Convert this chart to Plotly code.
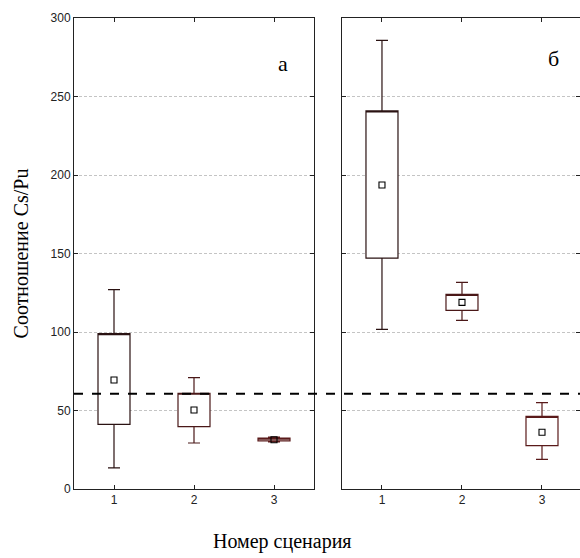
import plotly.graph_objects as go

# ---- data ----
scenarios = [1, 2, 3]
# panel "а"
a_lower = [13.4, 29.3, 30.0]
a_q1 = [41.2, 39.7, 30.6]
a_q3 = [99.0, 61.0, 32.4]
a_upper = [127.0, 71.0, 33.0]
a_mean = [69.4, 50.3, 31.4]
# panel "б"
b_lower = [101.7, 107.4, 18.9]
b_q1 = [147.0, 113.8, 27.6]
b_q3 = [240.8, 124.0, 46.3]
b_upper = [285.8, 131.6, 55.0]
b_mean = [193.6, 118.9, 36.1]
threshold = 60.7
y_ticks = [0, 50, 100, 150, 200, 250, 300]
panel_labels = ["а", "б"]

box_colors = ["#2a1212", "#4a1818", "#5a1a1a"]

fig = go.Figure()

def add_panel(xa, ya, lower, q1, q3, upper, mean):
    for i, s in enumerate(scenarios):
        fig.add_trace(go.Box(
            x=[s], q1=[q1[i]], median=[q3[i]], q3=[q3[i]],
            lowerfence=[lower[i]], upperfence=[upper[i]],
            width=0.4, whiskerwidth=0.375,
            fillcolor="white", line=dict(color=box_colors[i], width=1.2),
            xaxis=xa, yaxis=ya, showlegend=False, hoverinfo="skip",
        ))
    fig.add_trace(go.Scatter(
        x=scenarios, y=mean, mode="markers",
        marker=dict(symbol="square-open", size=6, color="black", line=dict(width=1.1)),
        xaxis=xa, yaxis=ya, showlegend=False, hoverinfo="skip",
    ))

add_panel("x", "y", a_lower, a_q1, a_q3, a_upper, a_mean)
add_panel("x2", "y2", b_lower, b_q1, b_q3, b_upper, b_mean)

axis_common = dict(
    showline=True, linecolor="#222", linewidth=1, mirror="ticks",
    ticks="inside", ticklen=4, tickcolor="#222",
    tickfont=dict(family="Liberation Sans, Arial", size=12, color="#222"),
    zeroline=False,
)
grid_common = dict(showgrid=True, gridcolor="#c4c4c4", griddash="3px,2px", gridwidth=1)

fig.update_layout(
    width=580, height=558,
    margin=dict(l=74, r=0, t=18, b=69),
    paper_bgcolor="white", plot_bgcolor="white",
    boxmode="overlay",
    xaxis=dict(domain=[0, 0.4743], range=[0.5, 3.5], tickvals=scenarios,
               showgrid=False, **axis_common),
    xaxis2=dict(domain=[0.5296, 1], range=[0.5, 3.475], tickvals=scenarios,
                showgrid=False, anchor="y2", **axis_common),
    yaxis=dict(range=[0, 300], tickvals=y_ticks,
               title=dict(text="Соотношение Cs/Pu",
                          font=dict(family="Liberation Serif, Times New Roman", size=20, color="black"),
                          standoff=16),
               **grid_common, **axis_common),
    yaxis2=dict(range=[0, 300], tickvals=y_ticks, showticklabels=False, anchor="x2",
                **grid_common, **axis_common),
)

fig.add_shape(type="line", xref="paper", yref="y", x0=0, x1=1, y0=threshold, y1=threshold,
              line=dict(color="black", width=2, dash="dash"))

fig.add_annotation(text=panel_labels[0], xref="x domain", yref="y domain", x=0.9, y=0.934,
                   showarrow=False, font=dict(family="Liberation Serif, Times New Roman", size=22, color="black"))
fig.add_annotation(text=panel_labels[1], xref="x2 domain", yref="y2 domain", x=0.92, y=0.944,
                   showarrow=False, font=dict(family="Liberation Serif, Times New Roman", size=22, color="black"))
fig.add_annotation(text="Номер сценария", xref="paper", yref="paper", x=0.412, y=-0.1125,
                   yanchor="middle", showarrow=False,
                   font=dict(family="Liberation Serif, Times New Roman", size=20, color="black"))

fig.write_html("out.html", config={"displayModeBar": False},
               post_script="document.body.style.margin='0';document.body.style.overflow='hidden';")
